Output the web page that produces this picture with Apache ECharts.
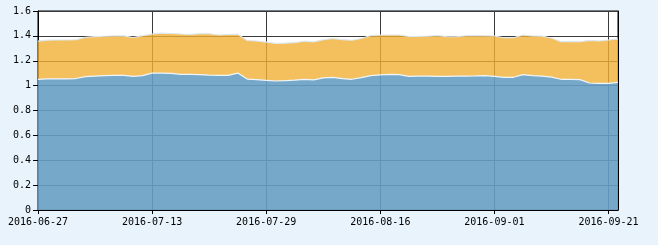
<!DOCTYPE html>
<html>
<head>
<meta charset="utf-8">
<script src="https://cdn.jsdelivr.net/npm/echarts@6/dist/echarts.min.js"></script>
<style>
html,body{margin:0;padding:0;background:#e8f3fb;}
#c{width:658px;height:245px;}
</style>
</head>
<body>
<div id="c"></div>
<script>
const categories = [
  "2016-06-27","2016-06-28","2016-06-29","2016-06-30",
  "2016-07-01","2016-07-04","2016-07-05","2016-07-06","2016-07-07","2016-07-08",
  "2016-07-11","2016-07-12","2016-07-13","2016-07-14","2016-07-15",
  "2016-07-18","2016-07-19","2016-07-20","2016-07-21","2016-07-22",
  "2016-07-25","2016-07-26","2016-07-27","2016-07-28","2016-07-29",
  "2016-08-01","2016-08-02","2016-08-03","2016-08-04","2016-08-05",
  "2016-08-08","2016-08-09","2016-08-10","2016-08-11","2016-08-12",
  "2016-08-15","2016-08-16","2016-08-17","2016-08-18","2016-08-19",
  "2016-08-22","2016-08-23","2016-08-24","2016-08-25","2016-08-26",
  "2016-08-29","2016-08-30","2016-08-31","2016-09-01","2016-09-02",
  "2016-09-05","2016-09-06","2016-09-07","2016-09-08","2016-09-09",
  "2016-09-12","2016-09-13","2016-09-14","2016-09-19","2016-09-20",
  "2016-09-21","2016-09-22"
];
const blueValues = [
  1.051,1.055,1.055,1.055,1.057,1.073,1.077,1.080,1.083,1.083,
  1.075,1.081,1.101,1.101,1.099,1.091,1.091,1.089,1.085,1.083,
  1.083,1.101,1.053,1.048,1.043,1.037,1.040,1.045,1.051,1.046,
  1.063,1.066,1.057,1.051,1.065,1.080,1.087,1.091,1.089,1.075,
  1.077,1.077,1.075,1.075,1.077,1.077,1.078,1.080,1.075,1.067,
  1.067,1.088,1.080,1.077,1.069,1.051,1.051,1.048,1.021,1.018,
  1.018,1.026
];
const orangeValues = [
  0.307,0.311,0.312,0.312,0.312,0.316,0.317,0.317,0.317,0.317,
  0.312,0.320,0.314,0.321,0.320,0.324,0.321,0.328,0.332,0.324,
  0.328,0.313,0.310,0.311,0.307,0.302,0.302,0.301,0.306,0.306,
  0.306,0.313,0.313,0.314,0.314,0.323,0.320,0.316,0.318,0.320,
  0.319,0.320,0.329,0.318,0.316,0.324,0.324,0.321,0.324,0.318,
  0.318,0.319,0.319,0.321,0.314,0.302,0.305,0.305,0.343,0.341,
  0.349,0.349
];
const yTicks = { min: 0, max: 1.6, interval: 0.2 };

const chart = echarts.init(document.getElementById('c'), null, {renderer: 'canvas'});
const font = { fontFamily: 'DejaVu Sans Mono', fontSize: 10, color: '#000' };
chart.setOption({
  animation: false,
  backgroundColor: '#e8f3fb',
  grid: { left: 38, right: 40, top: 11, bottom: 35, show: true, backgroundColor: '#fff', borderColor: '#000', borderWidth: 1 },
  xAxis: {
    type: 'category',
    data: categories,
    boundaryGap: false,
    axisLine: { lineStyle: { color: '#000', width: 1 } },
    axisTick: { interval: 11, length: 4, lineStyle: { color: '#000' } },
    axisLabel: Object.assign({ interval: 11, margin: 7 }, font),
    splitLine: { show: true, interval: 11, lineStyle: { color: '#3a3a3a', width: 1 } }
  },
  yAxis: [{
    type: 'value',
    min: yTicks.min, max: yTicks.max, interval: yTicks.interval,
    axisLine: { show: true, lineStyle: { color: '#000', width: 1 } },
    axisTick: { show: true, length: 5, lineStyle: { color: '#000' } },
    axisLabel: Object.assign({ margin: 7 }, font),
    splitLine: { show: true, lineStyle: { color: '#3a3a3a', width: 1 } }
  }, {
    type: 'value', position: 'right',
    min: yTicks.min, max: yTicks.max, interval: yTicks.interval,
    axisLine: { show: true, lineStyle: { color: '#000', width: 1 } },
    axisTick: { show: false }, axisLabel: { show: false }, splitLine: { show: false }
  }],
  series: [{
    type: 'line', stack: 'a', data: blueValues, symbol: 'none',
    lineStyle: { color: '#eef5fa', width: 1.2 },
    itemStyle: { color: '#679fc4' },
    areaStyle: { color: '#679fc4', opacity: 0.9 }
  }, {
    type: 'line', stack: 'a', data: orangeValues, symbol: 'none',
    lineStyle: { color: '#dde8f0', width: 1.2 },
    itemStyle: { color: '#f1b036' },
    areaStyle: { color: '#f1b036', opacity: 0.8 }
  }]
});
</script>
</body>
</html>
